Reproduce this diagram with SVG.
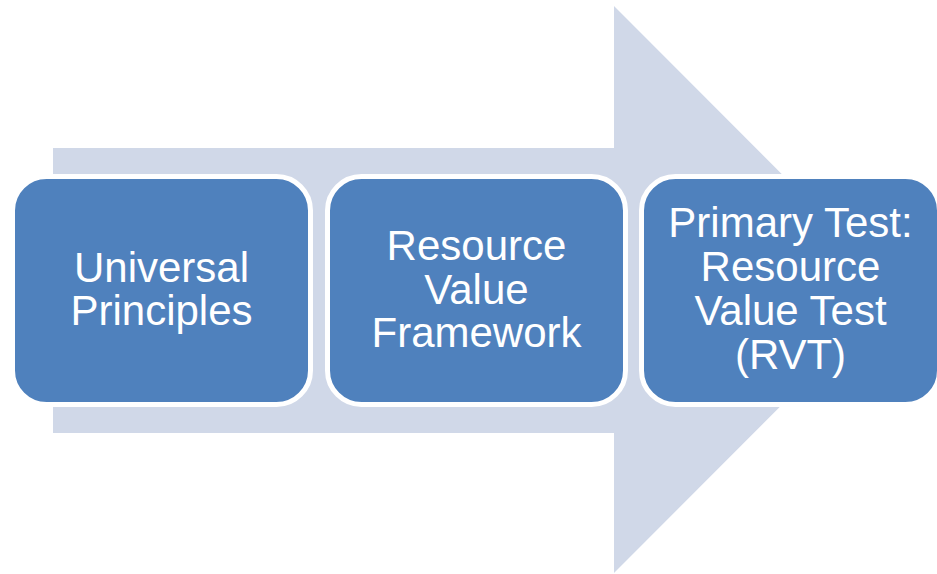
<svg xmlns="http://www.w3.org/2000/svg" width="937" height="574" viewBox="0 0 937 574">
<style>
.box{fill:#4F81BD;stroke:#FFFFFF;stroke-width:5}
.lbl{font-family:"Liberation Sans",Arial,sans-serif;font-size:42px;fill:#FFFFFF;text-anchor:middle}
</style>
<rect width="937" height="574" fill="#FFFFFF"/>
<g id="connectors">
<polygon id="arrow" points="53,148 614,148 614,6 897,289.5 614,573 614,433 53,433" fill="#D0D8E8"/>
</g>
<g id="node1">
<rect class="box" x="12.5" y="176.5" width="298" height="228" rx="34" ry="34"/>
<text class="lbl" x="161.5" y="281.5">Universal</text>
<text class="lbl" x="161.5" y="325">Principles</text>
</g>
<g id="node2">
<rect class="box" x="327.5" y="176.5" width="298" height="228" rx="34" ry="34"/>
<text class="lbl" x="476.5" y="260">Resource</text>
<text class="lbl" x="476.5" y="304">Value</text>
<text class="lbl" x="476.5" y="347">Framework</text>
</g>
<g id="node3">
<rect class="box" x="641.5" y="176.5" width="298" height="228" rx="34" ry="34"/>
<text class="lbl" x="790.5" y="237">Primary Test:</text>
<text class="lbl" x="790.5" y="281">Resource</text>
<text class="lbl" x="790.5" y="325">Value Test</text>
<text class="lbl" x="790.5" y="369">(RVT)</text>
</g>
</svg>
